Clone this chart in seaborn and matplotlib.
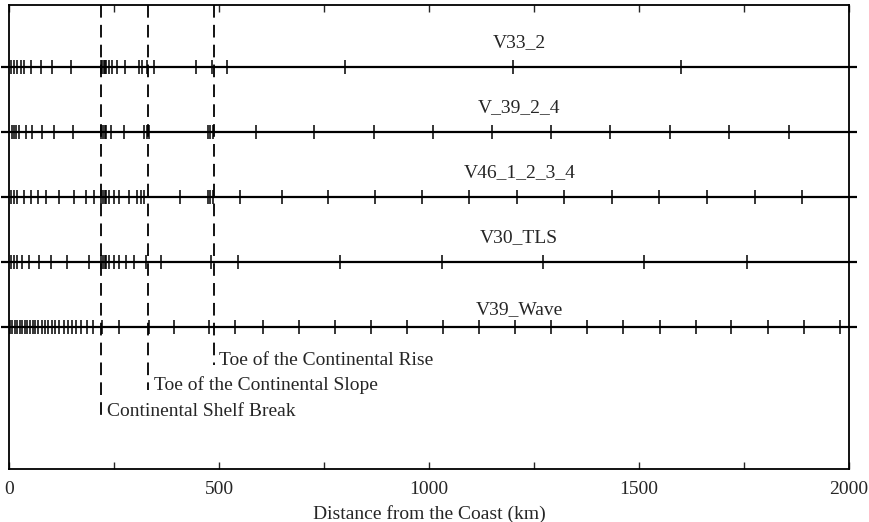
import matplotlib
matplotlib.use("Agg")
import matplotlib.pyplot as plt
import seaborn as sns
import pandas as pd
from matplotlib.ticker import MultipleLocator

# ---- data ----
cruises = ["V33_2", "V_39_2_4", "V46_1_2_3_4", "V30_TLS", "V39_Wave"]
v33_2 = [4, 12, 20, 28, 36, 52, 76, 103, 147, 219, 222, 225, 228, 231, 239, 246,
         258, 277, 310, 317, 329, 346, 446, 484, 520, 800, 1200, 1600]
v39_2_4 = [7, 12, 17, 24, 40, 55, 79, 107, 153, 220, 224, 228, 232, 243, 274, 322,
           328, 334, 473, 479, 485, 589, 727, 868, 1009, 1150, 1290, 1432, 1574,
           1715, 1858]
v46 = [4, 12, 20, 36, 52, 68, 88, 119, 155, 183, 203, 220, 224, 228, 232, 239, 251,
       263, 286, 305, 315, 322, 406, 473, 479, 485, 549, 649, 759, 871, 984, 1095,
       1210, 1322, 1436, 1548, 1662, 1775, 1889]
v30_tls = [4, 12, 20, 32, 48, 72, 100, 139, 191, 220, 224, 228, 232, 239, 251, 263,
           278, 298, 326, 362, 481, 545, 787, 1030, 1272, 1513, 1756]
v39_wave = [2, 8, 14, 20, 26, 32, 38, 44, 50, 56, 62, 70, 78, 86, 94, 102, 110, 120,
            130, 140, 150, 160, 172, 186, 200, 222, 262, 334, 394, 477, 537, 604,
            690, 776, 862, 947, 1033, 1119, 1205, 1291, 1377, 1463, 1549, 1635,
            1720, 1807, 1893, 1979]
stations = [v33_2, v39_2_4, v46, v30_tls, v39_wave]

features = ["Continental Shelf Break", "Toe of the Continental Slope",
            "Toe of the Continental Rise"]
feature_km = [220, 332, 487]

x_ticks = [0, 500, 1000, 1500, 2000]
x_label = "Distance from the Coast (km)"

# ---- build table ----
df = pd.DataFrame(
    [(c, d) for c, s in zip(cruises, stations) for d in s],
    columns=["cruise", "distance"],
)
df["row"] = df["cruise"].map({c: i for i, c in enumerate(cruises)})

sns.set_style("white")
plt.rcParams["font.family"] = ["Liberation Serif", "DejaVu Serif"]

fig = plt.figure(figsize=(8.7, 5.22), dpi=100)
ax = fig.add_axes([9 / 870, 1 - 469 / 522, 840 / 870, 464 / 522])

# horizontal track lines and row labels
label_off = [0.37, 0.37, 0.37, 0.37, 0.27]
for i, c in enumerate(cruises):
    ax.plot([-18, 2018], [i, i], color="black", lw=1.6, clip_on=False,
            solid_capstyle="butt", zorder=2)
    ax.text(1215, i - label_off[i], c, ha="center", va="center", fontsize=14)

# station tick marks
sns.scatterplot(data=df, x="distance", y="row", marker="|", s=110,
                color="black", linewidth=1.1, ax=ax, legend=False, zorder=3)

# y layout: row spacing 65 px over 464 px axes
top = -62 / 65
ax.set_ylim(top + 464 / 65, top)

# dashed vertical feature lines and annotations (pixel rows -> row units)
text_px = [411, 385, 360]
end_px = [420, 390, 365]
for k, tp, ep, name in zip(feature_km, text_px, end_px, features):
    ty = (tp - 67) / 65
    ey = (ep - 67) / 65
    ax.plot([k, k], [top, ey], color="black", lw=1.3, ls=(0, (7, 4)), zorder=1)
    ax.text(k + 14, ty, name, ha="left", va="center", fontsize=14)

ax.set_xlim(0, 2000)
ax.xaxis.set_major_locator(MultipleLocator(500))
ax.xaxis.set_minor_locator(MultipleLocator(250))
ax.set_xticks(x_ticks)
ax.set_xticklabels([str(t) for t in x_ticks], fontsize=14)
ax.set_yticks([])
ax.set_ylabel("")
ax.set_xlabel(x_label, fontsize=14, labelpad=5)
ax.tick_params(axis="x", which="both", direction="in", top=True, bottom=True,
               length=5, width=1, pad=9)
for s in ax.spines.values():
    s.set_visible(True)
    s.set_color("black")
    s.set_linewidth(1.3)

fig.savefig("out.png", dpi=100)
